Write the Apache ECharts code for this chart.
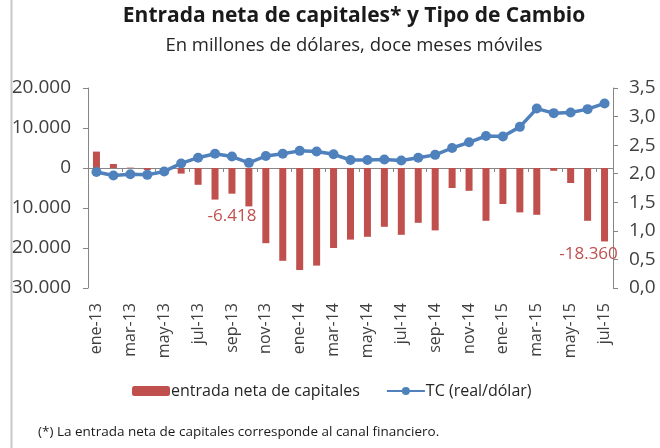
<!DOCTYPE html>
<html>
<head>
<meta charset="utf-8">
<script src="https://cdn.jsdelivr.net/npm/echarts@6/dist/echarts.min.js"></script>
<style>
  html, body { margin: 0; padding: 0; background: #fff; }
  #main { width: 660px; height: 448px; }
</style>
</head>
<body>
<div id="main"></div>
<script>
// meses (doce meses móviles)
var meses = ['ene-13','feb-13','mar-13','abr-13','may-13','jun-13','jul-13','ago-13','sep-13','oct-13','nov-13','dic-13',
             'ene-14','feb-14','mar-14','abr-14','may-14','jun-14','jul-14','ago-14','sep-14','oct-14','nov-14','dic-14',
             'ene-15','feb-15','mar-15','abr-15','may-15','jun-15','jul-15'];
// entrada neta de capitales, millones US$
var entrada = [4100, 1000, 100, -500, -100, -1400, -4200, -7900, -6418, -9600, -18800, -23200,
               -25500, -24400, -20000, -17900, -17200, -14700, -16700, -13700, -15600, -5000, -5700, -13200,
               -9000, -11100, -11700, -700, -3750, -13200, -18360];
// TC real/dólar
var tc = [2.03, 1.97, 1.99, 1.98, 2.04, 2.18, 2.28, 2.35, 2.30, 2.19, 2.31, 2.35,
          2.40, 2.39, 2.34, 2.24, 2.24, 2.25, 2.23, 2.28, 2.33, 2.45, 2.55, 2.66,
          2.65, 2.82, 3.14, 3.06, 3.07, 3.13, 3.23];
var conEtiqueta = [8, 30];

var FONT = 'Open Sans';
var rojo = '#c0504d', azul = '#4f81bd', gris = '#868686', texto = '#404040';

function miles(v) {
  return String(v).replace(/\B(?=(\d{3})+(?!\d))/g, '.');
}

var barData = entrada.map(function (v, i) {
  if (conEtiqueta.indexOf(i) < 0) return v;
  return {
    value: v,
    label: {
      show: true, position: 'bottom', distance: i == 30 ? 4 : 14,
      offset: i == 30 ? [-16, 0] : [0, 0],
      color: rojo, fontSize: 17, fontFamily: FONT,
      formatter: function (p) { return miles(p.value); }
    }
  };
});

var myChart = echarts.init(document.getElementById('main'));
var option = {
  animation: false,
  title: {
    text: 'Entrada neta de capitales* y Tipo de Cambio',
    subtext: 'En millones de dólares, doce meses móviles',
    left: 349, top: 1, textAlign: 'center', itemGap: 9,
    textStyle: { fontFamily: FONT, fontSize: 21, fontWeight: 'bold', color: '#1a1a1a' },
    subtextStyle: { fontFamily: FONT, fontSize: 18.5, color: '#262626' }
  },
  grid: { left: 88, right: 47, top: 88, bottom: 160, containLabel: false },
  legend: {
    left: 127, top: 378, itemWidth: 38, itemHeight: 10, itemGap: 26,
    textStyle: { fontFamily: FONT, fontSize: 16, color: '#262626', padding: [0, 0, 0, -4] },
    data: ['entrada neta de capitales', 'TC (real/dólar)']
  },
  xAxis: [
    {
      type: 'category', data: meses, position: 'bottom',
      axisLine: { show: false, onZero: false },
      axisTick: { show: false },
      axisLabel: { interval: 1, rotate: 90, margin: 15, fontFamily: FONT, fontSize: 16, color: texto }
    },
    {
      type: 'category', data: meses, position: 'bottom',
      axisLine: { show: true, onZero: true, onZeroAxisIndex: 0, lineStyle: { color: gris, width: 1 } },
      axisTick: { show: true, interval: 1, length: 4, lineStyle: { color: gris } },
      axisLabel: { show: false }
    }
  ],
  yAxis: [
    {
      type: 'value', min: -30000, max: 20000, interval: 10000,
      splitLine: { show: false },
      axisLine: { show: true, lineStyle: { color: gris } },
      axisTick: { show: true, length: 5, lineStyle: { color: gris } },
      axisLabel: { margin: 17, fontFamily: FONT, fontSize: 19, color: texto, formatter: miles }
    },
    {
      type: 'value', min: 0, max: 3.5, interval: 0.5, position: 'right',
      splitLine: { show: false },
      axisLine: { show: true, lineStyle: { color: gris } },
      axisTick: { show: true, length: 5, lineStyle: { color: gris } },
      axisLabel: { margin: 16, fontFamily: FONT, fontSize: 19, color: texto,
        formatter: function (v) { return v.toFixed(1).replace('.', ','); } }
    }
  ],
  series: [
    {
      name: 'entrada neta de capitales', type: 'bar', xAxisIndex: 0, yAxisIndex: 0,
      barWidth: 7, itemStyle: { color: rojo }, data: barData, z: 2
    },
    {
      name: 'TC (real/dólar)', type: 'line', xAxisIndex: 0, yAxisIndex: 1,
      symbol: 'circle', symbolSize: 10,
      lineStyle: { color: azul, width: 3.5 }, itemStyle: { color: azul },
      data: tc, z: 3
    }
  ],
  graphic: [
    { type: 'rect', left: 0, top: 0, shape: { width: 11, height: 448 }, style: { fill: '#fff' }, z: 100 },
    { type: 'line', shape: { x1: 11.5, y1: 0, x2: 11.5, y2: 448 }, style: { stroke: '#c8c8c8', lineWidth: 2 }, z: 101 },
    { type: 'text', left: 38, top: 425, z: 101,
      style: { text: '(*) La entrada neta de capitales corresponde al canal financiero.',
               font: '13.5px "Open Sans"', fill: '#1a1a1a' } }
  ]
};
myChart.setOption(option);
</script>
</body>
</html>
